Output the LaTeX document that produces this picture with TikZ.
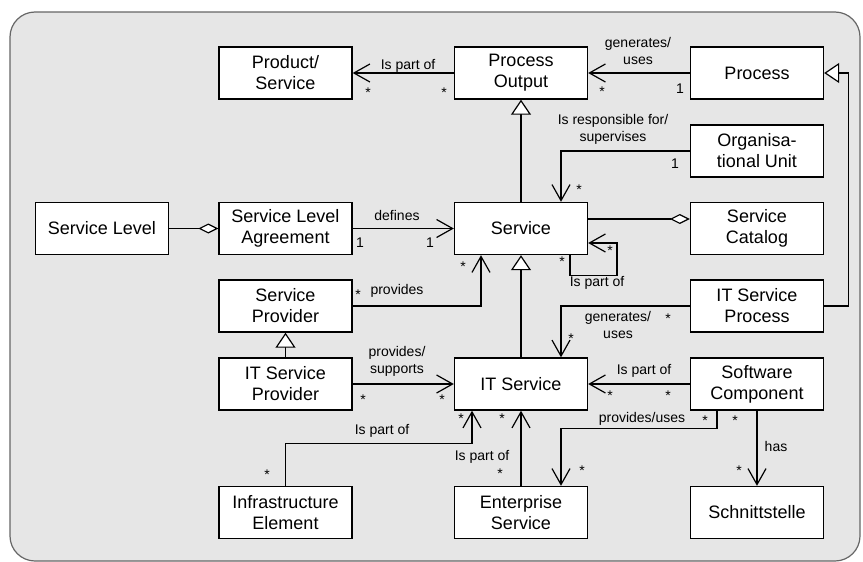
\documentclass[tikz,border=0pt]{standalone}
\usepackage{fontspec}
\setmainfont{Liberation Sans}
\usetikzlibrary{arrows.meta,calc}
\definecolor{panelgray}{HTML}{E6E6E6}
\definecolor{framegray}{HTML}{666666}
\tikzset{
  box/.style={draw, line width=0.7pt, fill=white, minimum width=66.5pt, minimum height=26pt, align=center, inner sep=1pt, font=\fontsize{9}{10.5}\selectfont},
  lbl/.style={align=center, inner sep=0pt, font=\fontsize{7}{8.5}\selectfont},
  mult/.style={inner sep=0pt, font=\fontsize{7}{8}\selectfont},
  assoc/.style={line width=0.6pt, -{Straight Barb[length=8pt,width=9pt]}},
  gen/.style={line width=0.6pt, -{Triangle[fill=white,length=7.5pt,width=10pt]}},
  agg/.style={line width=0.6pt, -{Diamond[fill=white,length=10pt,width=5pt]}}
}
\begin{document}
\begin{tikzpicture}[x=0.5pt,y=-0.5pt]
\useasboundingbox (0,0) rectangle (863,562);
\draw[framegray, fill=panelgray, line width=0.6pt, rounded corners=12.5pt] (10,12) rectangle (860,561);

\node[box] (ps) at (285.5,73) {Product/\\Service};
\node[box] (po) at (521,73) {Process\\Output};
\node[box] (proc) at (757,73) {Process};
\node[box] (org) at (757,151) {Organisa-\\tional Unit};
\node[box] (sl) at (102,228.5) {Service Level};
\node[box] (sla) at (285.5,228.5) {Service Level\\Agreement};
\node[box] (srv) at (521,228.5) {Service};
\node[box] (cat) at (757,228.5) {Service\\Catalog};
\node[box] (sp) at (285.5,306) {Service\\Provider};
\node[box] (itsp) at (757,306) {IT Service\\Process};
\node[box] (itprov) at (285.5,384) {IT Service\\Provider};
\node[box] (its) at (521,384) {IT Service};
\node[box] (sc) at (757,384) {Software\\Component};
\node[box] (ie) at (285.5,512.5) {Infrastructure\\Element};
\node[box] (es) at (521,512.5) {Enterprise\\Service};
\node[box] (sst) at (757,512.5) {Schnittstelle};

\draw[assoc] (po.west) -- (ps.east);
\draw[assoc] (proc.west) -- (po.east);
\draw[gen] (srv.north) -- (po.south);
\draw[gen] (itsp.east) -- ++(24,0) |- (proc.east);
\draw[assoc] (org.west) -| ($(srv.north)+(40,0)$);
\draw[agg] (sl.east) -- (sla.west);
\draw[assoc] (sla.east) -- (srv.west);
\draw[agg] ($(srv.east)+(0,-9.5)$) -- ($(cat.west)+(0,-9.5)$);
\draw[assoc] ($(srv.south)+(49,0)$) -- ++(0,20) -- ++(47,0) |- ($(srv.east)+(0,14.5)$);
\draw[assoc] (sp.east) -| ($(srv.south)+(-40,0)$);
\draw[gen] (itprov.north) -- (sp.south);
\draw[assoc] (itprov.east) -- (its.west);
\draw[gen] (its.north) -- (srv.south);
\draw[assoc] (itsp.west) -| ($(its.north)+(40,0)$);
\draw[assoc] (sc.west) -- (its.east);
\draw[assoc] ($(sc.south)+(-40,0)$) -- ++(0,18) -| ($(es.north)+(40,0)$);
\draw[assoc] (sc.south) -- (sst.north);
\draw[assoc] (es.north) -- (its.south);
\draw[assoc] (ie.north) -- ++(0,-42) -| ($(its.south)+(-49,0)$);

\node[lbl] (l1) at (408,66) {Is part of};
\node[lbl] (l2) at (638,51) {generates/\\uses};
\node[lbl] (l3) at (613,129) {Is responsible for/\\supervises};
\node[lbl] (l4) at (397,215) {defines};
\node[lbl] (l5) at (397,291) {provides};
\node[lbl] (l6) at (397,361) {provides/\\supports};
\node[lbl] (l7) at (597,283) {Is part of};
\node[lbl] (l8) at (618,325) {generates/\\uses};
\node[lbl] (l9) at (644,371) {Is part of};
\node[lbl] (l10) at (642,419) {provides/uses};
\node[lbl] (l11) at (776,446) {has};
\node[lbl] (l12) at (482,457) {Is part of};
\node[lbl] (l13) at (382,431) {Is part of};

\node[mult] (m1) at (368,93) {*};
\node[mult] (m2) at (444,93) {*};
\node[mult] (m3) at (602,92) {*};
\node[mult] (m4) at (680,89) {1};
\node[mult] (m5) at (675,164) {1};
\node[mult] (m6) at (579,190) {*};
\node[mult] (m7) at (360,243) {1};
\node[mult] (m8) at (430,243) {1};
\node[mult] (m9) at (562,262) {*};
\node[mult] (m10) at (610,251) {*};
\node[mult] (m11) at (358,295) {*};
\node[mult] (m12) at (463,267) {*};
\node[mult] (m13) at (668,319) {*};
\node[mult] (m14) at (571,339) {*};
\node[mult] (m15) at (363,400) {*};
\node[mult] (m16) at (442,400) {*};
\node[mult] (m17) at (610,396) {*};
\node[mult] (m18) at (668,396) {*};
\node[mult] (m19) at (461,419) {*};
\node[mult] (m20) at (267,475) {*};
\node[mult] (m21) at (502,419) {*};
\node[mult] (m22) at (500,474) {*};
\node[mult] (m23) at (705,421) {*};
\node[mult] (m24) at (582,471) {*};
\node[mult] (m25) at (735,421) {*};
\node[mult] (m26) at (739,471) {*};
\end{tikzpicture}
\end{document}
